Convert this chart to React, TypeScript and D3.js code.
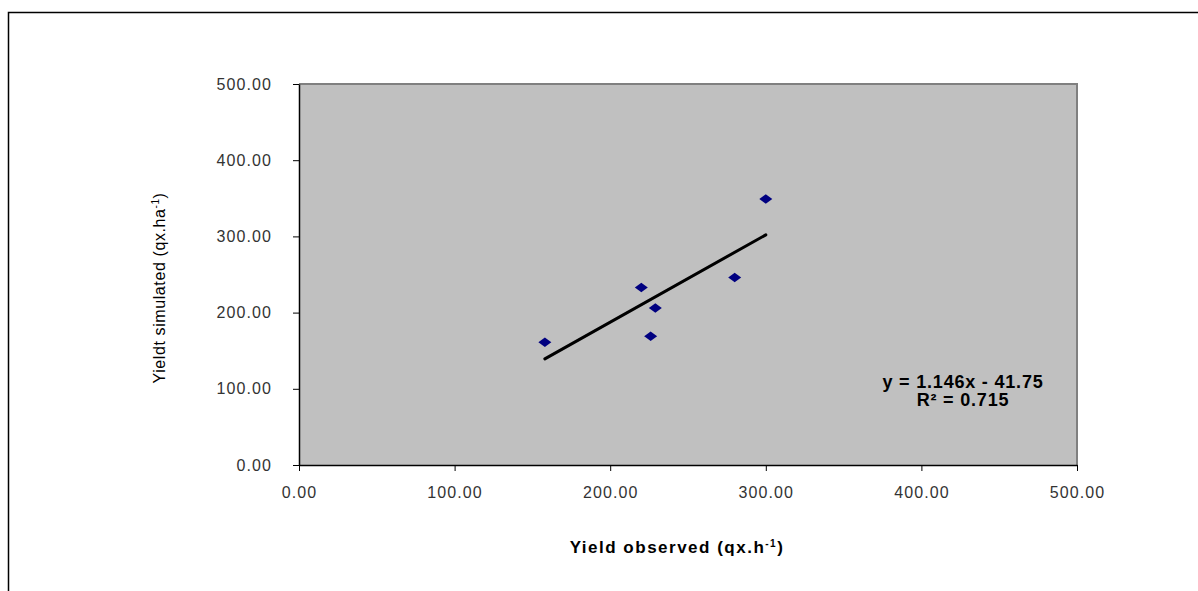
import * as d3 from 'd3';
import { useEffect, useRef } from 'react';

const observed = [158, 220, 229, 226, 280, 300];
const simulated = [161, 233, 206, 169, 246, 349];
const ticks = [0, 100, 200, 300, 400, 500];
const slope = 1.146;
const intercept = -41.75;
const r2 = 0.715;

const W = 1198;
const H = 591;

const App = () => {
  const ref = useRef<SVGSVGElement>(null);

  useEffect(() => {
    const margin = { top: 84, right: 121, bottom: 126, left: 299 };
    const svg = d3.select(ref.current);
    svg.selectAll('*').remove();

    const x = d3.scaleLinear().domain([0, 500]).range([margin.left, W - margin.right]);
    const y = d3.scaleLinear().domain([0, 500]).range([H - margin.bottom, margin.top]);
    const font = 'Liberation Sans, Arial, sans-serif';

    // outer frame (left + top only visible)
    svg.append('path')
      .attr('d', `M8.5,${H} V12.5 H${W}`)
      .attr('fill', 'none')
      .attr('stroke', '#000')
      .attr('stroke-width', 1.5);

    // plot area
    svg.append('rect')
      .attr('x', x(0))
      .attr('y', y(500))
      .attr('width', x(500) - x(0))
      .attr('height', y(0) - y(500))
      .attr('fill', '#c0c0c0');
    svg.append('path')
      .attr('d', `M${x(0)},${y(500)} H${x(500)} V${y(0)}`)
      .attr('fill', 'none')
      .attr('stroke', '#808080')
      .attr('stroke-width', 2);

    const xAxis = svg.append('g')
      .attr('transform', `translate(0,${y(0)})`)
      .call(d3.axisBottom(x).tickValues(ticks).tickFormat(d3.format('.2f')).tickSize(6).tickSizeOuter(0).tickPadding(16));
    const yAxis = svg.append('g')
      .attr('transform', `translate(${x(0)},0)`)
      .call(d3.axisLeft(y).tickValues(ticks).tickFormat(d3.format('.2f')).tickSize(6).tickSizeOuter(0).tickPadding(21));
    [xAxis, yAxis].forEach((g) => {
      g.selectAll('text')
        .attr('font-family', font)
        .attr('font-size', 16)
        .attr('fill', '#333')
        .style('letter-spacing', '1.1px');
      g.selectAll('line').attr('stroke', '#000');
      g.select('.domain').attr('stroke', '#000').attr('stroke-width', 1.5);
    });

    // trendline
    const xs = d3.extent(observed) as [number, number];
    svg.append('line')
      .attr('x1', x(xs[0]))
      .attr('y1', y(slope * xs[0] + intercept))
      .attr('x2', x(xs[1]))
      .attr('y2', y(slope * xs[1] + intercept))
      .attr('stroke', '#000')
      .attr('stroke-width', 3)
      .attr('stroke-linecap', 'round');

    // points
    svg.append('g')
      .selectAll('path')
      .data(observed)
      .join('path')
      .attr('transform', (d, i) => `translate(${x(d)},${y(simulated[i])})`)
      .attr('d', 'M-6.5,0 L0,-4.8 L6.5,0 L0,4.8 Z')
      .attr('fill', '#000080');

    // equation
    const eq = svg.append('text')
      .attr('font-family', font)
      .attr('font-size', 18)
      .attr('font-weight', 'bold')
      .attr('fill', '#000')
      .attr('text-anchor', 'middle')
      .style('letter-spacing', '0.8px');
    eq.append('tspan').attr('x', 963).attr('y', 388).text(`y = ${slope}x  - ${Math.abs(intercept)}`);
    eq.append('tspan').attr('x', 963).attr('y', 406).text(`R² = ${r2}`);

    // axis titles
    const xt = svg.append('text')
      .attr('x', 677)
      .attr('y', 553)
      .attr('text-anchor', 'middle')
      .attr('font-family', font)
      .attr('font-size', 17)
      .attr('font-weight', 'bold')
      .attr('fill', '#000')
      .style('letter-spacing', '1.5px');
    xt.append('tspan').text('Yield observed  (qx.h');
    xt.append('tspan').attr('dy', -6).attr('font-size', 10).text('-1');
    xt.append('tspan').attr('dy', 6).text(')');

    const yt = svg.append('text')
      .attr('transform', `translate(165,288) rotate(-90)`)
      .attr('text-anchor', 'middle')
      .attr('font-family', font)
      .attr('font-size', 16)
      .attr('fill', '#000')
      .style('letter-spacing', '0.6px');
    yt.append('tspan').text('Yieldt simulated  (qx.ha');
    yt.append('tspan').attr('dy', -6).attr('font-size', 10).text('-1');
    yt.append('tspan').attr('dy', 6).text(')');
  }, []);

  return (
    <svg
      ref={ref}
      width={W}
      height={H}
      style={{ position: 'absolute', left: 0, top: 0, background: '#fff' }}
    />
  );
};

export default App;
